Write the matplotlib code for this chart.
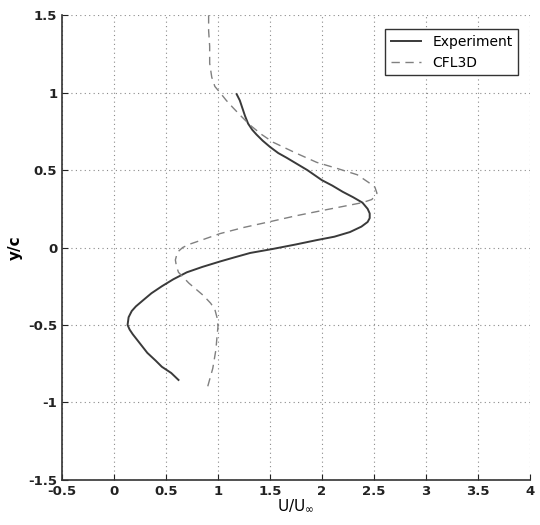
import matplotlib
matplotlib.use("Agg")
import matplotlib.pyplot as plt

# Experiment velocity profile (U/Uinf vs y/c)
exp_u = [1.18, 1.21, 1.23, 1.26, 1.29, 1.33, 1.37, 1.43, 1.50, 1.58, 1.66,
         1.76, 1.86, 2.00, 2.10, 2.20, 2.30, 2.39, 2.44, 2.46, 2.46, 2.44,
         2.38, 2.27, 2.12, 1.95, 1.75, 1.52, 1.31, 1.15, 1.02, 0.85, 0.70,
         0.57, 0.46, 0.36, 0.28, 0.21, 0.17, 0.14, 0.13, 0.15, 0.18, 0.25,
         0.32, 0.40, 0.46, 0.55, 0.62]
exp_y = [0.99, 0.95, 0.91, 0.85, 0.80, 0.76, 0.73, 0.69, 0.65, 0.61, 0.58,
         0.54, 0.50, 0.435, 0.40, 0.36, 0.325, 0.29, 0.25, 0.22, 0.19, 0.165,
         0.135, 0.10, 0.07, 0.048, 0.02, -0.01, -0.035, -0.065, -0.09, -0.125,
         -0.16, -0.205, -0.25, -0.295, -0.34, -0.38, -0.41, -0.45, -0.50,
         -0.53, -0.56, -0.62, -0.68, -0.73, -0.77, -0.81, -0.855]

# CFL3D prediction
cfd_u = [0.91, 0.91, 0.92, 0.92, 0.94, 0.97, 1.02, 1.08, 1.14, 1.22, 1.31,
         1.42, 1.53, 1.75, 1.95, 2.15, 2.34, 2.45, 2.51, 2.53, 2.48, 2.39,
         2.20, 2.01, 1.75, 1.52, 1.25, 1.02, 0.85, 0.72, 0.66, 0.61, 0.59,
         0.60, 0.62, 0.72, 0.86, 0.93, 0.97, 0.99, 1.00, 0.99, 0.98, 0.95,
         0.90]
cfd_y = [1.50, 1.40, 1.30, 1.19, 1.10, 1.04, 1.00, 0.95, 0.906, 0.85, 0.79,
         0.73, 0.68, 0.61, 0.55, 0.51, 0.47, 0.42, 0.39, 0.35, 0.31, 0.29,
         0.265, 0.24, 0.205, 0.17, 0.13, 0.09, 0.05, 0.02, 0.0, -0.03, -0.08,
         -0.12, -0.16, -0.23, -0.31, -0.36, -0.40, -0.45, -0.51, -0.58, -0.66,
         -0.78, -0.90]

fig = plt.figure(figsize=(5.4, 5.25), dpi=100)
ax = fig.add_axes([0.115, 0.086, 0.866, 0.885])

ax.plot(exp_u, exp_y, color="#3a3a3a", linewidth=1.4, label="Experiment")
ax.plot(cfd_u, cfd_y, color="#808080", linewidth=1.0, linestyle=(0, (6, 4)),
        label="CFL3D")

ax.set_xlim(-0.5, 4)
ax.set_ylim(-1.5, 1.5)
ax.set_xticks([-0.5, 0, 0.5, 1, 1.5, 2, 2.5, 3, 3.5, 4])
ax.set_xticklabels(["-0.5", "0", "0.5", "1", "1.5", "2", "2.5", "3", "3.5", "4"])
ax.set_yticks([-1.5, -1, -0.5, 0, 0.5, 1, 1.5])
ax.set_yticklabels(["-1.5", "-1", "-0.5", "0", "0.5", "1", "1.5"])
ax.grid(True, linestyle=(0, (1, 3)), color="#8a8a8a", linewidth=0.8)
ax.tick_params(direction="in", length=4, labelsize=9.5, colors="#222222")
for lbl in ax.get_xticklabels() + ax.get_yticklabels():
    lbl.set_fontweight("bold")

ax.spines["top"].set_visible(False)
ax.spines["right"].set_visible(False)
ax.spines["left"].set_color("#333333")
ax.spines["bottom"].set_color("#333333")
ax.spines["left"].set_linewidth(1.2)
ax.spines["bottom"].set_linewidth(1.2)

ax.set_xlabel(r"U/U$_{\infty}$", fontsize=11, labelpad=0)
ax.set_ylabel("y/c", fontsize=11, fontweight="bold", labelpad=4)

leg = ax.legend(loc="upper right", bbox_to_anchor=(0.99, 0.985), fontsize=10,
                fancybox=False, framealpha=1, edgecolor="#333333",
                handlelength=2.2, borderpad=0.4)
leg.get_frame().set_linewidth(1.0)

fig.savefig("out.png", dpi=100)
